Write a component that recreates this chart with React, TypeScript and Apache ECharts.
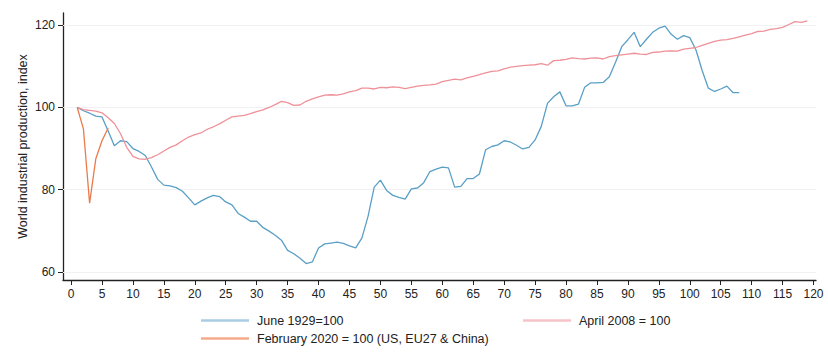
import React, { useEffect, useRef } from "react";
import * as echarts from "echarts";

const june1929: number[] = [
  100, 99.2, 98.6, 97.9, 97.7, 94.3, 90.7, 91.9, 91.7, 90.0,
  89.3, 88.3, 85.5, 82.5, 81.1, 80.9, 80.5, 79.6, 78.0, 76.3,
  77.2, 78.0, 78.6, 78.3, 77.0, 76.3, 74.2, 73.3, 72.3, 72.3,
  70.8, 69.9, 68.9, 67.7, 65.2, 64.4, 63.3, 62.0, 62.4, 65.8,
  66.8, 67.0, 67.2, 66.9, 66.3, 65.8, 68.2, 73.5, 80.6, 82.3,
  79.8, 78.6, 78.1, 77.7, 80.2, 80.4, 81.7, 84.4, 85.0, 85.5,
  85.3, 80.6, 80.8, 82.7, 82.7, 83.8, 89.7, 90.5, 90.9, 91.9,
  91.6, 90.8, 89.9, 90.3, 92.1, 95.4, 101.0, 102.6, 103.8, 100.4,
  100.4, 100.8, 104.9, 106.0, 106.0, 106.1, 107.5, 111.0, 114.8, 116.5,
  118.3, 114.8, 116.6, 118.3, 119.3, 119.8, 117.8, 116.6, 117.5, 117.0,
  114.0, 109.0, 104.7, 103.9, 104.5, 105.2, 103.6, 103.6,
];

const april2008: number[] = [
  100, 99.5, 99.3, 99.1, 98.7, 97.5, 96.1, 93.6, 90.3, 88.1,
  87.5, 87.4, 87.8, 88.5, 89.4, 90.3, 90.9, 91.9, 92.8, 93.4,
  93.8, 94.7, 95.3, 96.0, 96.9, 97.7, 97.9, 98.1, 98.5, 99.0,
  99.4, 100.0, 100.7, 101.5, 101.2, 100.5, 100.6, 101.5, 102.1, 102.6,
  103.0, 103.1, 103.0, 103.3, 103.8, 104.1, 104.7, 104.7, 104.5, 104.9,
  104.8, 105.0, 104.9, 104.6, 104.9, 105.2, 105.4, 105.5, 105.7, 106.3,
  106.6, 106.9, 106.7, 107.2, 107.6, 108.0, 108.4, 108.8, 108.9, 109.4,
  109.8, 110.0, 110.2, 110.3, 110.4, 110.7, 110.3, 111.4, 111.5, 111.7,
  112.1, 111.9, 111.8, 112.0, 112.1, 111.8, 112.4, 112.6, 112.8, 113.0,
  113.2, 113.0, 112.9, 113.4, 113.5, 113.7, 113.8, 113.7, 114.2, 114.4,
  114.6, 115.1, 115.6, 116.1, 116.4, 116.5, 116.8, 117.2, 117.6, 118.0,
  118.5, 118.6, 119.0, 119.2, 119.5, 120.2, 120.9, 120.7, 121.1,
];

const feb2020: number[] = [100, 94.8, 76.7, 87.5, 91.9, 95.0];

const xTicks: number[] = [0, 5, 10, 15, 20, 25, 30, 35, 40, 45, 50, 55, 60, 65, 70, 75, 80, 85, 90, 95, 100, 105, 110, 115, 120];
const yTicks: number[] = [60, 80, 100, 120];

const NAME_1929 = "June 1929=100";
const NAME_2008 = "April 2008 = 100";
const NAME_2020 = "February 2020 = 100 (US, EU27 & China)";

const toPairs = (arr: number[]) => arr.map((v, i) => [i + 1, v]);

const FONT = "'Liberation Sans', Arial, Helvetica, sans-serif";

export default function App() {
  const ref = useRef<HTMLDivElement>(null);
  useEffect(() => {
    if (!ref.current) return;
    const chart = echarts.init(ref.current, undefined, { renderer: "svg" });
    const legendText = { fontFamily: FONT, fontSize: 12.5, color: "#222", padding: [0, 0, 0, 3] };
    const legendBase = {
      orient: "horizontal" as const,
      icon: "rect",
      itemWidth: 48,
      itemHeight: 2.5,
      padding: 0,
      textStyle: legendText,
      selectedMode: false,
    };
    chart.setOption({
      animation: false,
      backgroundColor: "#ffffff",
      textStyle: { fontFamily: FONT },
      grid: { left: 63, right: 12, top: 13, bottom: 75, containLabel: false },
      legend: [
        { ...legendBase, left: 201, top: 314, itemStyle: { color: "#a9cce4" }, data: [{ name: NAME_1929, itemStyle: { color: "#a9cce4" } }] },
        { ...legendBase, left: 523, top: 314, itemStyle: { color: "#f6c3c6" }, data: [{ name: NAME_2008, itemStyle: { color: "#f6c3c6" } }] },
        { ...legendBase, left: 201, top: 332, itemStyle: { color: "#f6aa8c" }, data: [{ name: NAME_2020, itemStyle: { color: "#f6aa8c" } }] },
      ],
      xAxis: {
        type: "value",
        min: -1.3,
        max: 120.4,
        axisLine: { show: true, onZero: false, lineStyle: { color: "#222", width: 1.3 } },
        axisTick: { show: true, length: 5, customValues: xTicks, lineStyle: { color: "#222", width: 1 } },
        axisLabel: { customValues: xTicks, fontFamily: FONT, fontSize: 12, color: "#222", margin: 8 },
        splitLine: { show: false },
      },
      yAxis: {
        type: "value",
        min: 58,
        max: 123,
        name: "World industrial production, index",
        nameLocation: "middle",
        nameGap: 34,
        nameMoveOverlap: false,
        nameTextStyle: { fontFamily: FONT, fontSize: 12.5, color: "#222" },
        axisLine: { show: true, onZero: false, lineStyle: { color: "#222", width: 1.3 } },
        axisTick: { show: true, length: 5, customValues: yTicks, lineStyle: { color: "#222", width: 1 } },
        axisLabel: { customValues: yTicks, fontFamily: FONT, fontSize: 12, color: "#222", margin: 8 },
        splitLine: { show: false },
      },
      series: [
        {
          name: NAME_1929,
          type: "line",
          data: toPairs(june1929),
          symbol: "none",
          lineStyle: { color: "#5a9fc6", width: 1.3 },
          itemStyle: { color: "#5a9fc6" },
          z: 3,
          markLine: {
            silent: true,
            symbol: "none",
            label: { show: false },
            lineStyle: { color: "#f1f1f4", width: 1, type: "solid" },
            data: yTicks.map((v) => ({ yAxis: v })),
            z: 1,
          },
        },
        {
          name: NAME_2008,
          type: "line",
          data: toPairs(april2008),
          symbol: "none",
          lineStyle: { color: "#ee9198", width: 1.3 },
          itemStyle: { color: "#ee9198" },
          z: 3,
        },
        {
          name: NAME_2020,
          type: "line",
          data: toPairs(feb2020),
          symbol: "none",
          lineStyle: { color: "#ea7a4b", width: 1.3 },
          itemStyle: { color: "#ea7a4b" },
          z: 4,
        },
      ],
    });
    return () => chart.dispose();
  }, []);
  return <div ref={ref} style={{ width: 828, height: 355, position: "absolute", left: 0, top: 0 }} />;
}
